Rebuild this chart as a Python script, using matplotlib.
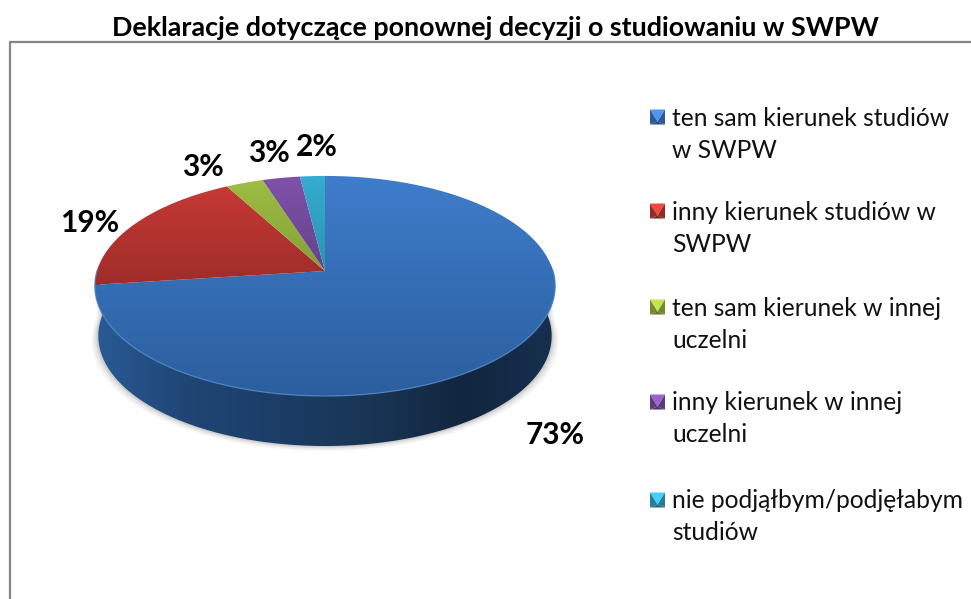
import numpy as np
import matplotlib
matplotlib.use('Agg')
import matplotlib.pyplot as plt
from matplotlib.colors import LinearSegmentedColormap, to_rgb
from matplotlib.patches import Polygon

plt.rcParams['font.family'] = ['Lato', 'DejaVu Sans']

title = 'Deklaracje dotyczące ponownej decyzji o studiowaniu w SWPW'
categories = ['ten sam kierunek studiów\nw SWPW', 'inny kierunek studiów w\nSWPW',
              'ten sam kierunek w innej\nuczelni', 'inny kierunek w innej\nuczelni',
              'nie podjąłbym/podjęłabym\nstudiów']
values = [73, 19, 3, 3, 2]
labels = ['73%', '19%', '3%', '3%', '2%']
label_pos = [(555, 435), (90, 223), (203, 167), (269, 153), (317, 147)]

top_colors = ['#3F7DCC', '#CB3B37', '#A0C044', '#8252AC', '#35ADD2']
low_colors = ['#2B5E9D', '#A02C29', '#7F9A35', '#5F3F85', '#2A8FAE']

# pie geometry in pixels
cx, cy = 325, 271
rx, ry, k = 228, 108, 0.136
depth = 50


def project(t):
    # t is clockwise from the top, back of the disc gets squeezed
    u, v = np.sin(t), np.cos(t)
    d = 1 + k * v
    return cx + rx * u / d, cy - ry * v / d


def gradient(ax, colors, extent, patch, horizontal=False):
    cmap = LinearSegmentedColormap.from_list('g', colors)
    g = np.linspace(0, 1, 256)
    g = g.reshape(1, -1) if horizontal else g.reshape(-1, 1)
    im = ax.imshow(g, cmap=cmap, extent=extent, aspect='auto', zorder=patch.get_zorder())
    im.set_clip_path(patch)


fig = plt.figure(figsize=(9.71, 5.99), dpi=100)
ax = fig.add_axes([0, 0, 1, 1])

# soft shadow under the rim
tt = np.linspace(np.pi / 2 - 0.05, 3 * np.pi / 2 + 0.05, 200)
for grow, a in zip([7, 5, 3, 1.5], [0.05, 0.07, 0.09, 0.12]):
    x, y = project(tt)
    x = cx + (x - cx) * 0.985
    sx = np.r_[cx + (x - cx) * (1 + grow / 230), x[::-1]]
    sy = np.r_[y + depth + grow * 0.7, y[::-1]]
    ax.fill(sx, sy, color='#555555', alpha=a, lw=0, zorder=1)

# rim, front half only
x, y = project(tt)
x2 = cx + (x - cx) * 0.985
rim = Polygon(np.c_[np.r_[x, x2[::-1]], np.r_[y, (y + depth)[::-1]]], closed=True,
              fc='none', ec='none', zorder=2)
ax.add_patch(rim)
gradient(ax, ['#2A5A96', '#1F4675', '#1B3D66', '#193555', '#12263F', '#15304F'],
         [cx - 232, cx + 232, 460, 170], rim, horizontal=True)

# top face slices
angles = np.r_[0, np.cumsum(values)] / np.sum(values) * 2 * np.pi
for i, val in enumerate(values):
    t = np.linspace(angles[i], angles[i + 1], 150)
    x, y = project(t)
    wedge = Polygon(np.c_[np.r_[cx, x], np.r_[cy, y]], closed=True, fc='none', ec='none', zorder=3)
    ax.add_patch(wedge)
    # imshow row 0 sits at the extent's top value
    y_low = 400 if i == 0 else 285
    gradient(ax, [top_colors[i], low_colors[i]], [cx - 235, cx + 235, y_low, 172], wedge)

# light edge on the front of the top face
x, y = project(np.linspace(np.pi / 2, 3 * np.pi / 2, 200))
ax.plot(x, y, color='#4E86C8', lw=1, alpha=0.8, zorder=4)

for txt, (lx, ly) in zip(labels, label_pos):
    ax.text(lx, ly, txt, fontsize=21.5, fontweight='bold', ha='center', va='center', color='black', zorder=5)

ax.text(495, 28, title, fontsize=19.4, fontweight='bold', ha='center', va='center', color='black')

# legend
leg_y = [117, 211, 307, 402, 500]
for i, cat in enumerate(categories):
    my = leg_y[i]
    mx = 650
    s = 15
    c = np.array(to_rgb(top_colors[i]))
    corners = [(mx, my - s / 2), (mx + s, my - s / 2), (mx + s, my + s / 2), (mx, my + s / 2)]
    mid = (mx + s / 2, my + s * 0.3)
    shades = [np.clip(c * 1.2, 0, 1), c * 0.72, c * 0.62, c * 0.72]
    for j in range(4):
        ax.add_patch(Polygon([corners[j], corners[(j + 1) % 4], mid], closed=True, fc=shades[j], ec='none', zorder=3))
    ax.text(672, my + 1, cat.split('\n')[0], fontsize=17.7, ha='left', va='center', color='#111111')
    ax.text(672, my + 33, cat.split('\n')[1], fontsize=17.7, ha='left', va='center', color='#111111')

# frame runs off the right and bottom of the picture
ax.plot([971, 10, 10], [42, 42, 599], color='#868686', lw=1.6, zorder=6)

ax.set_xlim(0, 971)
ax.set_ylim(599, 0)
ax.axis('off')
fig.savefig('out.png', dpi=100)
